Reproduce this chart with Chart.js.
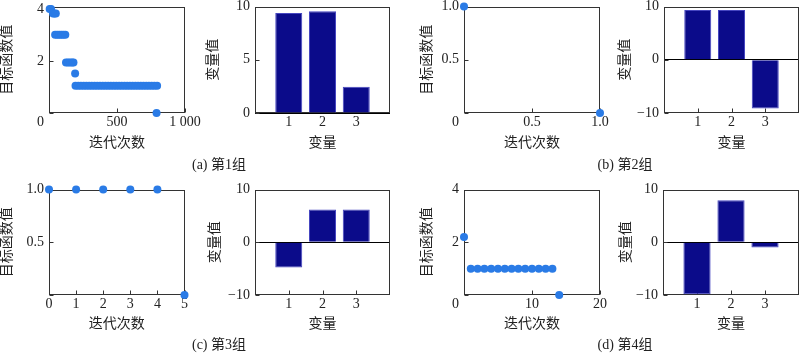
<!DOCTYPE html>
<html><head><meta charset="utf-8">
<script src="https://cdn.jsdelivr.net/npm/chart.js@4.4.0/dist/chart.umd.min.js"></script>
<style>
html,body{margin:0;padding:0;background:#fff;}
#wrap{position:relative;width:800px;height:356px;overflow:hidden;background:#fff;}
canvas{position:absolute;left:0;top:0;}
.cap{position:absolute;font-size:14px;font-family:'Liberation Serif','Noto Sans CJK SC',serif;color:#222;transform:translate(-50%,-50%);white-space:nowrap;line-height:16px;}
</style></head><body>
<div id="wrap">
<canvas id="pa1" width="800" height="356"></canvas>
<canvas id="pa2" width="800" height="356"></canvas>
<canvas id="pb1" width="800" height="356"></canvas>
<canvas id="pb2" width="800" height="356"></canvas>
<canvas id="pc1" width="800" height="356"></canvas>
<canvas id="pc2" width="800" height="356"></canvas>
<canvas id="pd1" width="800" height="356"></canvas>
<canvas id="pd2" width="800" height="356"></canvas>
<div class="cap" style="left:219px;top:165px">(a) 第1组</div>
<div class="cap" style="left:625px;top:165px">(b) 第2组</div>
<div class="cap" style="left:219px;top:345px">(c) 第3组</div>
<div class="cap" style="left:625px;top:345px">(d) 第4组</div>
</div>
<script>
// ---------- data ----------
const iterTitle = '迭代次数';
const objTitle = '目标函数值';
const varTitle = '变量';
const varValTitle = '变量值';

const varIndex = [1, 2, 3];
const varTickVals = [1, 2, 3];
const varTickLabels = ['1', '2', '3'];

// group 1
const aIter = [5, 15, 30, 40, 50, 45, 60, 75, 90, 105, 120, 125, 140, 155, 170, 180, 192,
  195, 215, 235, 255, 275, 295, 315, 335, 355, 375, 395, 415, 435, 455, 475, 495, 515, 535, 555,
  575, 595, 615, 635, 655, 675, 695, 715, 735, 755, 775, 795, 791];
const aObj = [4.02, 4.02, 3.85, 3.85, 3.85, 3.03, 3.03, 3.03, 3.03, 3.03, 3.03, 1.95, 1.95, 1.95, 1.95, 1.95, 1.53,
  1.05, 1.05, 1.05, 1.05, 1.05, 1.05, 1.05, 1.05, 1.05, 1.05, 1.05, 1.05, 1.05, 1.05, 1.05, 1.05, 1.05, 1.05, 1.05,
  1.05, 1.05, 1.05, 1.05, 1.05, 1.05, 1.05, 1.05, 1.05, 1.05, 1.05, 1.05, 0];
const aVars = [9.4, 9.55, 2.47];
const aXTicks = [0, 500, 1000];
const aXLabels = ['0', '500', '1 000'];
const aYTicks = [0, 2, 4];
const aYLabels = ['', '2', '4'];
const aVarTicks = [0, 5, 10];
const aVarLabels = ['0', '5', '10'];

// group 2
const bIter = [0, 1];
const bObj = [1, 0];
const bVars = [9.36, 9.36, -9.17];
const bXTicks = [0, 0.5, 1];
const bXLabels = ['0', '0.5', '1.0'];
const bYTicks = [0, 0.5, 1];
const bYLabels = ['', '0.5', '1.0'];

// group 3
const cIter = [0, 1, 2, 3, 4, 5];
const cObj = [1, 1, 1, 1, 1, 0];
const cVars = [-4.8, 6.2, 6.2];
const cXTicks = [0, 1, 2, 3, 4, 5];
const cXLabels = ['0', '1', '2', '3', '4', '5'];
const cYTicks = [0, 0.5, 1];
const cYLabels = ['', '0.5', '1.0'];

// group 4
const dIter = [0, 1, 2, 3, 4, 5, 6, 7, 8, 9, 10, 11, 12, 13, 14];
const dObj = [2.2, 1, 1, 1, 1, 1, 1, 1, 1, 1, 1, 1, 1, 1, 0];
const dVars = [-9.85, 7.95, -1.0];
const dXTicks = [0, 10, 20];
const dXLabels = ['0', '10', '20'];
const dYTicks = [0, 2, 4];
const dYLabels = ['', '2', '4'];

const varSymTicks = [-10, 0, 10];
const varSymLabels = ['\u221210', '0', '10'];

// ---------- styling ----------
const FONT = "'Liberation Serif','Noto Sans CJK SC',serif";
const TXT = '#222';
const DOT = '#2a7be6';
const BAR = '#0b0b8a';
const BAR_EDGE = '#4646c0';

const framePlugin = {
  id: 'frame',
  beforeDatasetsDraw(chart) {
    const {ctx, chartArea: a, scales} = chart;
    ctx.save();
    ctx.strokeStyle = '#333';
    ctx.lineWidth = 1;
    const L = Math.round(a.left) + 0.5, R = Math.round(a.right) - 0.5;
    const T = Math.round(a.top) + 0.5, B = Math.round(a.bottom) - 0.5;
    ctx.strokeRect(L, T, R - L, B - T);
    ctx.beginPath();
    scales.x.ticks.forEach(t => {
      const p = Math.round(scales.x.getPixelForValue(t.value)) + 0.5;
      ctx.moveTo(p, B); ctx.lineTo(p, B - 4);
    });
    scales.y.ticks.forEach(t => {
      const p = Math.round(scales.y.getPixelForValue(t.value)) + 0.5;
      ctx.moveTo(L, p); ctx.lineTo(L + 4, p);
    });
    ctx.stroke();
    ctx.restore();
  }
};

function axis(opts) {
  return {
    type: 'linear',
    min: opts.min, max: opts.max,
    offset: false,
    afterBuildTicks: s => { s.ticks = opts.ticks.map(v => ({value: v})); },
    afterFit: s => {
      if (opts.horizontal) s.height = opts.size; else s.width = opts.size;
      s.paddingLeft = 0; s.paddingRight = 0; s.paddingTop = 0; s.paddingBottom = 0;
    },
    grid: opts.zeroLine ? {
      display: true, drawTicks: false, lineWidth: 1,
      color: c => (c.tick && c.tick.value === 0) ? '#000' : 'rgba(0,0,0,0)'
    } : {display: false, drawTicks: false},
    border: {display: false},
    ticks: {
      autoSkip: false, maxRotation: 0, minRotation: 0,
      padding: opts.horizontal ? 2 : 5,
      color: TXT,
      font: {family: FONT, size: 14, lineHeight: 1},
      callback: (v, i) => {
        const lab = opts.labels[i];
        return (opts.zeroShift && v === 0) ? lab + '\u2007\u2007\u2009' : lab;
      }
    },
    title: {display: true, text: opts.title, color: TXT, padding: 0,
      font: {family: FONT, size: 14, lineHeight: 1}}
  };
}

function baseOptions(box, xAx, yAx) {
  const W = box.x0 - box.tx + 7;
  const H = box.ty - box.y1 + 7;
  xAx.size = H; xAx.horizontal = true;
  yAx.size = W; yAx.horizontal = false;
  return {
    responsive: false, animation: false, events: [],
    layout: {padding: {left: box.x0 - W, right: 800 - box.x1, top: box.y0, bottom: 356 - box.y1 - H}},
    plugins: {legend: {display: false}, tooltip: {enabled: false}},
    scales: {x: axis(xAx), y: axis(yAx)}
  };
}

function scatterChart(id, box, xs, ys, xAx, yAx) {
  const pts = xs.map((x, i) => ({x: x, y: ys[i]}));
  new Chart(document.getElementById(id), {
    type: 'scatter',
    data: {datasets: [{data: pts, backgroundColor: DOT, borderColor: DOT, borderWidth: 0,
      pointRadius: 4, pointHoverRadius: 4, clip: false}]},
    options: baseOptions(box, xAx, yAx),
    plugins: [framePlugin]
  });
}

function barChart(id, box, vals, yAx) {
  const pts = varIndex.map((x, i) => ({x: x, y: vals[i]}));
  const xAx = {min: 0, max: 4, ticks: varTickVals, labels: varTickLabels, title: varTitle};
  new Chart(document.getElementById(id), {
    type: 'bar',
    data: {datasets: [{data: pts, backgroundColor: BAR, borderColor: BAR_EDGE, borderWidth: 1,
      barPercentage: 0.8, categoryPercentage: 1}]},
    options: baseOptions(box, xAx, yAx),
    plugins: [framePlugin]
  });
}

const row1 = {y0: 6.5, y1: 113, ty: 143};
const row2 = {y0: 189.5, y1: 295, ty: 324};

scatterChart('pa1', Object.assign({x0: 49, x1: 185, tx: 7.5}, row1), aIter, aObj,
  {min: 0, max: 1000, ticks: aXTicks, labels: aXLabels, title: iterTitle, zeroShift: true},
  {min: 0, max: 4.12, ticks: aYTicks, labels: aYLabels, title: objTitle});
barChart('pa2', Object.assign({x0: 255, x1: 390, tx: 213.5}, row1), aVars,
  {min: 0, max: 10, ticks: aVarTicks, labels: aVarLabels, title: varValTitle, zeroLine: true});

scatterChart('pb1', Object.assign({x0: 464, x1: 600, tx: 427}, row1), bIter, bObj,
  {min: 0, max: 1, ticks: bXTicks, labels: bXLabels, title: iterTitle, zeroShift: true},
  {min: 0, max: 1, ticks: bYTicks, labels: bYLabels, title: objTitle});
barChart('pb2', Object.assign({x0: 664, x1: 799, tx: 625.5}, row1), bVars,
  {min: -10, max: 10, ticks: varSymTicks, labels: varSymLabels, title: varValTitle, zeroLine: true});

scatterChart('pc1', Object.assign({x0: 49, x1: 184.5, tx: 7.5}, row2), cIter, cObj,
  {min: 0, max: 5, ticks: cXTicks, labels: cXLabels, title: iterTitle},
  {min: 0, max: 1, ticks: cYTicks, labels: cYLabels, title: objTitle});
barChart('pc2', Object.assign({x0: 255, x1: 390, tx: 215}, row2), cVars,
  {min: -10, max: 10, ticks: varSymTicks, labels: varSymLabels, title: varValTitle, zeroLine: true});

scatterChart('pd1', Object.assign({x0: 464, x1: 600, tx: 427}, row2), dIter, dObj,
  {min: 0, max: 20, ticks: dXTicks, labels: dXLabels, title: iterTitle, zeroShift: true},
  {min: 0, max: 4, ticks: dYTicks, labels: dYLabels, title: objTitle});
barChart('pd2', Object.assign({x0: 663, x1: 799, tx: 626.5}, row2), dVars,
  {min: -10, max: 10, ticks: varSymTicks, labels: varSymLabels, title: varValTitle, zeroLine: true});
</script>
</body></html>
